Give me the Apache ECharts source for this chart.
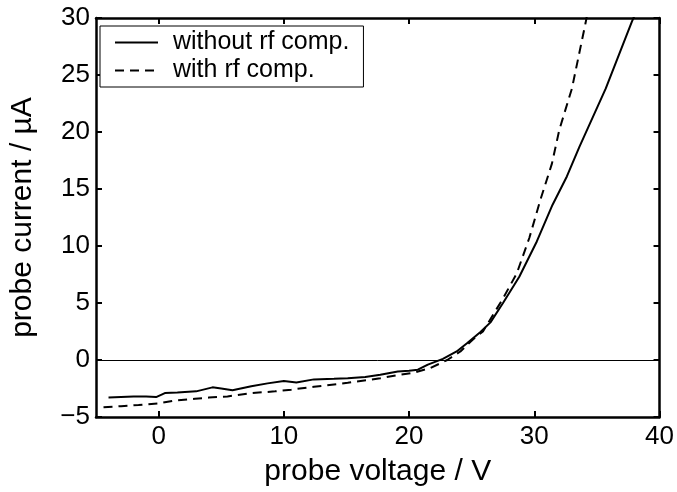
<!DOCTYPE html>
<html>
<head>
<meta charset="utf-8">
<script src="https://cdn.jsdelivr.net/npm/echarts@6/dist/echarts.min.js"></script>
<style>html,body{margin:0;padding:0;background:#fff;}#c{width:677px;height:492px;}</style>
</head>
<body>
<div id="c"></div>
<script>
// probe voltage (V) / probe current (µA)
var withoutV = [-4, -3, -2, -1, -0.2, 0.5, 1.5, 3, 4.3, 5, 5.9, 7.4, 8.7, 10, 11, 12.4, 14, 15.1, 16.5, 17.7, 19.1, 20, 20.7, 21.5, 22.7, 23.8, 24.6, 25.7, 26.5, 27.5, 28.8, 30.2, 31.45, 32.6, 33.6, 35.7, 37.8, 38.0];
var withoutI = [-3.3, -3.25, -3.2, -3.2, -3.25, -2.9, -2.85, -2.75, -2.4, -2.5, -2.65, -2.3, -2.05, -1.85, -1.97, -1.7, -1.65, -1.6, -1.5, -1.3, -1.0, -0.95, -0.85, -0.4, 0.1, 0.75, 1.45, 2.45, 3.3, 5.0, 7.3, 10.4, 13.6, 16.1, 18.7, 23.8, 29.7, 30.2];
var withV = [-4.4, -3, -1.6, 0, 1.3, 2.9, 4, 5.5, 7.4, 9.3, 10.6, 12.4, 15.1, 17.7, 19, 20.4, 21.7, 23.05, 24.1, 25.1, 25.9, 27.5, 28.6, 29.6, 30.5, 31.4, 32.0, 33.0, 34.1, 34.2];
var withI = [-4.15, -4.05, -3.95, -3.8, -3.55, -3.4, -3.3, -3.2, -2.9, -2.75, -2.6, -2.35, -2.0, -1.6, -1.35, -1.1, -0.7, 0.0, 0.75, 1.8, 2.5, 5.4, 7.6, 10.7, 14.1, 17.2, 20.2, 23.8, 29.6, 30.2];
var seriesNames = ['without rf comp.', 'with rf comp.'];
var xTickValues = [0, 10, 20, 30, 40];
var xRange = [-5, 40];
var yRange = [-5, 30];
var yInterval = 5;

function zip(a, b) { return a.map(function (v, i) { return [v, b[i]]; }); }
var FONT = 'Liberation Sans, Arial, Helvetica, sans-serif';
function minus(v) { return String(v).replace('-', '\u2212'); }

var chart = echarts.init(document.getElementById('c'));
var axisLine = { show: true, onZero: false, lineStyle: { color: '#000', width: 2.5 } };
function tick(custom) {
  var t = { show: true, inside: true, length: 6, lineStyle: { color: '#000', width: 2 } };
  if (custom) t.customValues = custom;
  return t;
}
chart.setOption({
  animation: false,
  backgroundColor: '#fff',
  grid: { left: 93, right: 16, top: 18, bottom: 65, containLabel: false },
  legend: {
    orient: 'vertical', left: 100, top: 26,
    padding: [4, 14, 4, 14], itemGap: 3, itemWidth: 43, itemHeight: 14,
    borderColor: '#000', borderWidth: 1, backgroundColor: '#fff',
    itemStyle: { color: 'rgba(0,0,0,0)', borderWidth: 0, opacity: 0 },
    lineStyle: { width: 2 },
    textStyle: { fontFamily: FONT, fontSize: 25, lineHeight: 25, color: '#000', padding: [0, 0, 0, 10] },
    data: seriesNames
  },
  xAxis: [{
    type: 'value', min: xRange[0], max: xRange[1],
    position: 'bottom', axisLine: axisLine, axisTick: tick(xTickValues),
    axisLabel: { fontFamily: FONT, fontSize: 26, color: '#000', margin: 7,
      customValues: xTickValues, formatter: minus },
    splitLine: { show: false },
    name: 'probe voltage / V', nameLocation: 'middle', nameGap: 40,
    nameTextStyle: { fontFamily: FONT, fontSize: 30, color: '#000' }
  }, {
    type: 'value', min: xRange[0], max: xRange[1],
    position: 'top', axisLine: axisLine, axisTick: tick(xTickValues),
    axisLabel: { show: false }, splitLine: { show: false }
  }],
  yAxis: [{
    type: 'value', min: yRange[0], max: yRange[1], interval: yInterval,
    position: 'left', axisLine: axisLine, axisTick: tick(),
    axisLabel: { fontFamily: FONT, fontSize: 26, color: '#000', margin: 6, formatter: minus },
    splitLine: { show: false },
    name: 'probe current / \u00b5A', nameLocation: 'middle', nameGap: 58,
    nameTextStyle: { fontFamily: FONT, fontSize: 30, color: '#000' }
  }, {
    type: 'value', min: yRange[0], max: yRange[1], interval: yInterval,
    position: 'right', axisLine: axisLine, axisTick: tick(),
    axisLabel: { show: false }, splitLine: { show: false }
  }],
  series: [{
    name: seriesNames[0], type: 'line', data: zip(withoutV, withoutI),
    showSymbol: false, symbol: 'none', clip: true,
    lineStyle: { color: '#000', width: 2, type: 'solid' },
    itemStyle: { color: '#000' },
    markLine: { silent: true, symbol: 'none', label: { show: false },
      lineStyle: { color: '#000', width: 1, type: 'solid' }, data: [{ yAxis: 0 }] }
  }, {
    name: seriesNames[1], type: 'line', data: zip(withV, withI),
    showSymbol: false, symbol: 'none', clip: true,
    lineStyle: { color: '#000', width: 2, type: [9, 6] },
    itemStyle: { color: '#000' }
  }]
});
</script>
</body>
</html>
